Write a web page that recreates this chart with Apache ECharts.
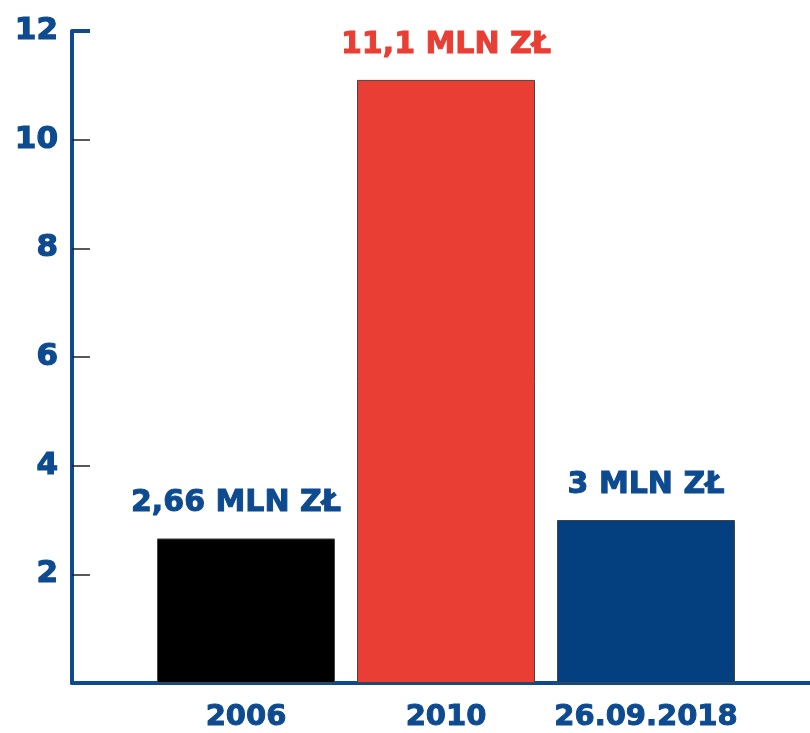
<!DOCTYPE html>
<html>
<head>
<meta charset="utf-8">
<script src="https://cdn.jsdelivr.net/npm/echarts@6/dist/echarts.min.js"></script>
<style>
  html, body { margin: 0; padding: 0; background: #fff; }
  #chart { width: 810px; height: 733px; }
</style>
</head>
<body>
<div id="chart"></div>
<script>
// data
const categories = ['2006', '2010', '26.09.2018'];
const values = [2.66, 11.1, 3];
const valueLabels = ['2,66 MLN ZŁ', '11,1 MLN ZŁ', '3 MLN ZŁ'];
const barColors = ['#000000', '#e83e33', '#04407f'];
const labelColors = ['#0d4a8f', '#e83e33', '#0d4a8f'];

const BLUE = '#0d4a8f';
const FONT = 'DejaVu Sans';

const chart = echarts.init(document.getElementById('chart'), null, { renderer: 'canvas' });

const seriesData = values.map((v, i) => ({
  value: v,
  itemStyle: { color: barColors[i] },
  label: {
    formatter: valueLabels[i],
    color: labelColors[i],
    textBorderColor: labelColors[i],
    offset: i === 0 ? [-10, 0] : [0, 0]
  }
}));

chart.setOption({
  animation: false,
  grid: [
    // axis frame
    { left: 72, right: 0, top: 31, bottom: 50 },
    // bars
    { left: 146, right: 64, top: 31, bottom: 50 }
  ],
  xAxis: [
    {
      gridIndex: 0, type: 'category', data: categories,
      axisLine: { lineStyle: { color: BLUE, width: 4 } },
      axisTick: { show: false },
      axisLabel: { show: false }
    },
    {
      gridIndex: 1, type: 'category', data: categories,
      axisLine: { show: false },
      axisTick: { show: false },
      axisLabel: {
        interval: 0, margin: 20, color: BLUE, fontFamily: FONT,
        fontWeight: 'bold', fontSize: 29,
        textBorderColor: BLUE, textBorderWidth: 1
      }
    }
  ],
  yAxis: [
    {
      gridIndex: 0, type: 'value', min: 0, max: 12, interval: 2,
      splitLine: { show: false },
      axisLine: { show: true, lineStyle: { color: BLUE, width: 4 } },
      axisTick: { show: true, inside: true, length: 18, lineStyle: { color: '#222', width: 1.5 } },
      axisLabel: {
        margin: 14, color: BLUE, fontFamily: FONT, fontWeight: 'bold', fontSize: 31,
        textBorderColor: BLUE, textBorderWidth: 1.2,
        formatter: v => (v === 0 ? '' : String(v))
      }
    },
    {
      // thick blue cap tick at the top of the axis
      gridIndex: 0, type: 'value', min: 0, max: 12, interval: 12, position: 'left',
      splitLine: { show: false },
      axisLine: { show: false },
      axisLabel: { show: false },
      axisTick: { show: true, inside: true, length: 18, lineStyle: { color: BLUE, width: 4 } }
    },
    {
      gridIndex: 1, type: 'value', min: 0, max: 12, show: false
    }
  ],
  series: [
    {
      type: 'bar',
      xAxisIndex: 1,
      yAxisIndex: 2,
      barWidth: 178,
      data: seriesData,
      itemStyle: { borderColor: '#444', borderWidth: 1 },
      label: {
        show: true, position: 'top', distance: 20,
        fontFamily: FONT, fontWeight: 'bold', fontSize: 30,
        textBorderWidth: 1
      }
    }
  ]
});
</script>
</body>
</html>
